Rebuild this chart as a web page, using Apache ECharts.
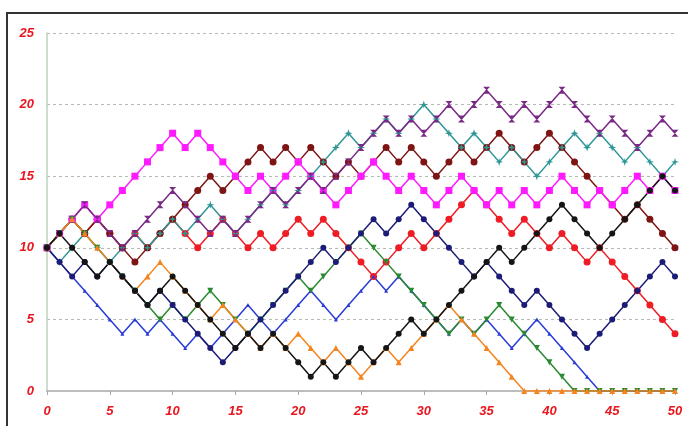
<!DOCTYPE html>
<html>
<head>
<meta charset="utf-8">
<title>Random walks</title>
<script src="https://cdn.jsdelivr.net/npm/echarts@6/dist/echarts.min.js"></script>
<style>
    html, body { margin: 0; padding: 0; background: #fff; }
    #chart { width: 688px; height: 426px; }
</style>
</head>
<body>
<div id="chart"></div>
<script>
// x axis steps
const steps = [0,1,2,3,4,5,6,7,8,9,10,11,12,13,14,15,16,17,18,19,20,21,22,23,24,25,
    26,27,28,29,30,31,32,33,34,35,36,37,38,39,40,41,42,43,44,45,46,47,48,49,50];

// walk values
const red = [10,11,12,11,12,11,10,11,10,11, 12,11,10,11,12,11,10,11,10,11,
    12,11,12,11,10,9,8,9,10,11, 10,11,12,13,14,13,12,11,12,11, 10,11,10,9,10,9,8,7,6,5,4];
const maroon = [10,11,12,11,12,11,10,9,10,11, 12,13,14,15,14,15,16,17,16,17,
    16,17,16,15,16,15,16,17,16,17, 16,15,16,17,16,17,18,17,16,17, 18,17,16,15,14,13,12,13,12,11,10];
const magenta = [10,11,12,13,12,13,14,15,16,17, 18,17,18,17,16,15,14,15,14,15,
    16,15,14,13,14,15,16,15,14,15, 14,13,14,15,14,13,14,13,14,13, 14,15,14,13,14,13,14,15,14,15,14];
const teal = [10,9,10,11,10,9,10,11,10,11, 12,11,12,13,12,11,12,13,14,13,
    14,15,16,17,18,17,18,19,18,19, 20,19,18,17,18,17,16,17,16,15, 16,17,18,17,18,17,16,17,16,15,16];
const purple = [10,11,12,13,12,11,10,11,12,13, 14,13,12,11,12,11,12,13,14,13,
    14,15,14,15,16,17,18,19,18,19, 18,19,20,19,20,21,20,19,20,19, 20,21,20,19,18,19,18,17,18,19,18];
const lightBlue = [10,9,8,7,6,5,4,5,4,5, 4,3,4,3,4,5,6,5,4,5,
    6,7,6,5,6,7,8,7,8,7, 6,5,4,5,4,5,4,3,4,5, 4,3,2,1,0,0,0,0,0,0,0];
const green = [10,11,12,11,10,9,8,7,6,5, 6,5,6,7,6,5,4,5,6,7,
    8,7,8,9,10,11,10,9,8,7, 6,5,4,5,4,5,6,5,4,3, 2,1,0,0,0,0,0,0,0,0,0];
const orange = [10,11,12,11,10,9,8,7,8,9, 8,7,6,5,6,5,4,3,4,3,
    4,3,2,3,2,1,2,3,2,3, 4,5,6,5,4,3,2,1,0,0, 0,0,0,0,0,0,0,0,0,0,0];
const navy = [10,9,8,9,8,9,8,7,6,7, 6,5,4,3,2,3,4,5,6,7,
    8,9,10,9,10,11,12,11,12,13, 12,11,10,9,8,9,8,7,6,7, 6,5,4,3,4,5,6,7,8,9,8];
const black = [10,11,10,9,8,9,8,7,6,7, 8,7,6,5,4,3,4,3,4,3,
    2,1,2,1,2,3,2,3,4,5, 4,5,6,7,8,9,10,9,10,11, 12,13,12,11,10,11,12,13,14,15,14];

const xTicks = [0, 5, 10, 15, 20, 25, 30, 35, 40, 45, 50];
const yTicks = [0, 5, 10, 15, 20, 25];

// 标记形状
const HOURGLASS = 'path://M0,0 L10,0 L5,5 L10,10 L0,10 L5,5 Z';
const STAR4 = 'path://M5,0 L6.2,3.8 L10,5 L6.2,6.2 L5,10 L3.8,6.2 L0,5 L3.8,3.8 Z';
const DOWN_TRI = 'path://M0,0 L10,0 L5,9 Z';

const labelStyle = {
    color: '#e8161e',
    fontStyle: 'italic',
    fontWeight: 'bold',
    fontSize: 13,
    fontFamily: 'Liberation Sans'
};

function pairs(values) {
    return values.map((v, i) => [steps[i], v]);
}

function walk(name, values, color, symbol, size) {
    return {
        name: name,
        type: 'line',
        data: pairs(values),
        symbol: symbol,
        symbolSize: size,
        showAllSymbol: true,
        lineStyle: { color: color, width: 1.5 },
        itemStyle: { color: color, borderWidth: 0 },
        emphasis: { disabled: true },
        animation: false
    };
}

function initChart() {
    const chart = echarts.init(document.getElementById('chart'), null, { renderer: 'canvas' });
    chart.setOption({
        backgroundColor: '#fff',
        animation: false,
        grid: { left: 47, right: 13, top: 33, bottom: 35 },
        graphic: [{
            type: 'rect',
            shape: { x: 7, y: 13, width: 700, height: 430 },
            style: { fill: 'none', stroke: '#333', lineWidth: 2 },
            silent: true
        }],
        xAxis: {
            type: 'value',
            min: xTicks[0],
            max: xTicks[xTicks.length - 1],
            interval: 5,
            axisLine: { lineStyle: { color: '#bdbdbd', width: 2 } },
            axisTick: { show: true, length: 4, lineStyle: { color: '#aaa' } },
            axisLabel: Object.assign({ margin: 14 }, labelStyle),
            splitLine: { show: false }
        },
        yAxis: {
            type: 'value',
            min: yTicks[0],
            max: yTicks[yTicks.length - 1],
            interval: 5,
            axisLine: { show: true, lineStyle: { color: '#bcd3bc', width: 1.5 } },
            axisTick: { show: false },
            axisLabel: Object.assign({ margin: 13 }, labelStyle),
            splitLine: { lineStyle: { color: '#b4bab4', type: [3, 3], width: 1 } }
        },
        series: [
            walk('red', red, '#ee1c24', 'circle', 7),
            walk('maroon', maroon, '#7f1414', 'circle', 7),
            walk('magenta', magenta, '#ff1aff', 'rect', 7),
            walk('teal', teal, '#2e9696', STAR4, 8),
            walk('purple', purple, '#7a2a86', HOURGLASS, 7),
            walk('blue', lightBlue, '#2a3cd6', 'triangle', 4),
            walk('green', green, '#2a8a30', DOWN_TRI, 6),
            walk('orange', orange, '#f5841f', 'triangle', 6),
            walk('navy', navy, '#1c1c78', 'circle', 6),
            walk('black', black, '#151515', 'circle', 6)
        ]
    });
}

document.addEventListener('DOMContentLoaded', initChart);
</script>
</body>
</html>
